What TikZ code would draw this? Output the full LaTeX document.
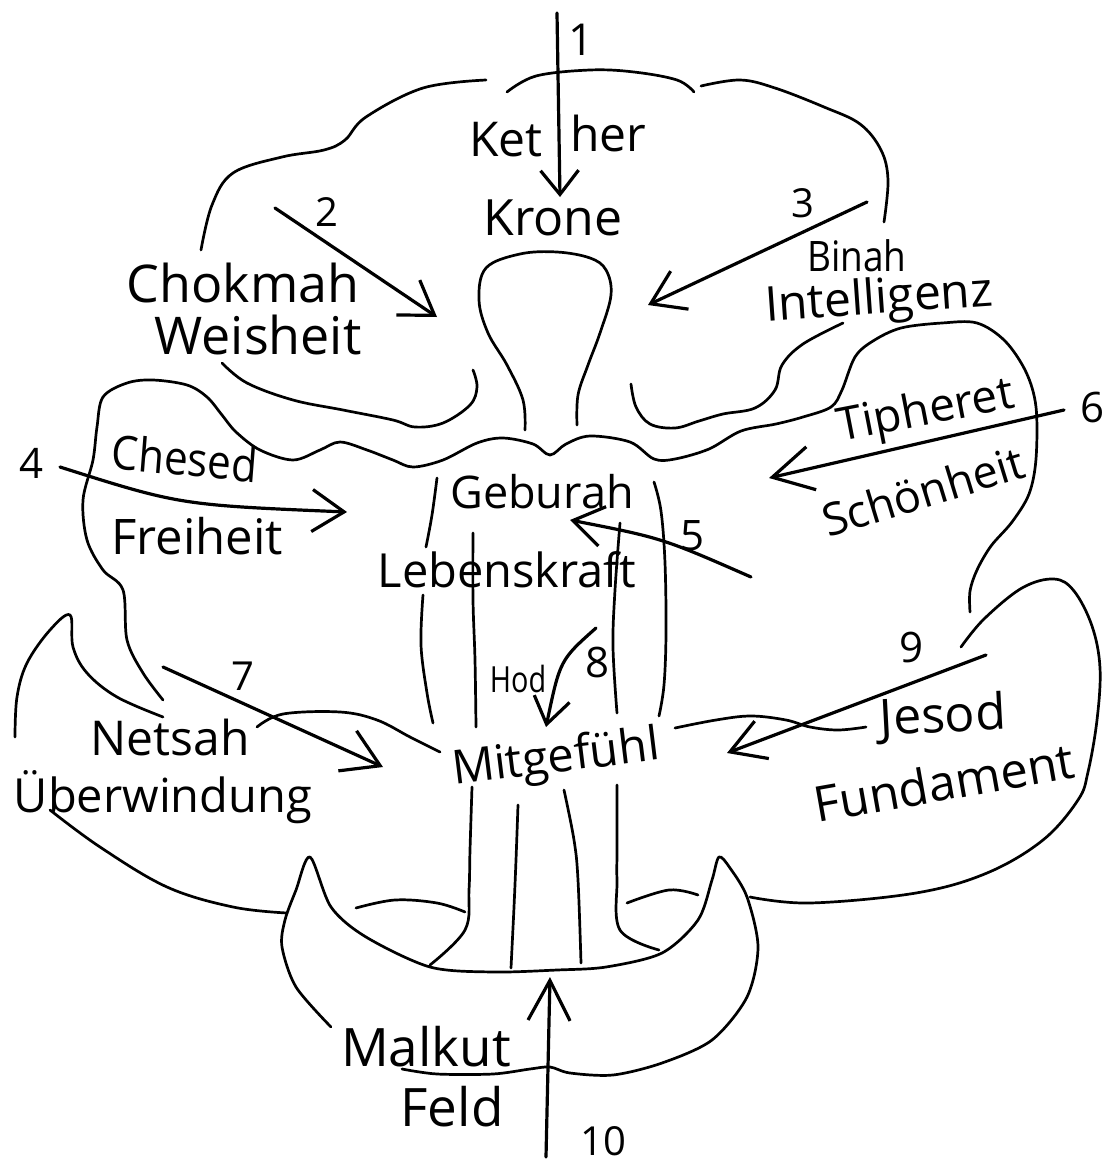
\documentclass[tikz,border=0pt]{standalone}
\usepackage{fontspec}
\setmainfont{Open Sans}
\usetikzlibrary{arrows.meta}
\newcommand{\fsz}[1]{\fontsize{#1}{#1}\selectfont}
\tikzset{
  outline/.style={line width=2.7pt, line cap=round, line join=round},
  arr/.style={line width=3.2pt, line cap=round, -{Straight Barb[length=32pt,width=42pt]}},
  lbl/.style={inner sep=0pt, anchor=center},
}
\begin{document}
\begin{tikzpicture}[x=1pt,y=-1pt]
\useasboundingbox (0,0) rectangle (1105,1165);
\fill[white] (0,0) rectangle (1105,1165);

% ---------- top cloud (Kether / Chokmah / Binah) ----------
\draw[outline] plot[smooth, tension=0.6] coordinates {(201,250) (212,205) (233,173) (282,157) (324,150) (345,140) (366,117) (423,88) (486,80)};
\draw[outline] plot[smooth, tension=0.6] coordinates {(507,92) (536,76) (590,70) (634,72) (677,80) (694,92)};
\draw[outline] plot[smooth, tension=0.6] coordinates {(701,86) (740,80) (775,88) (824,107) (860,124) (881,150) (888,180) (884,222)};
\draw[outline] plot[smooth, tension=0.6] coordinates {(222,363) (247,383) (293,400) (343,410) (393,420) (415,427) (443,423) (470,405) (477,387) (473,370)};
\draw[outline] plot[smooth, tension=0.6] coordinates {(631,384) (636,407) (650,424) (675,428) (699,421) (723,414) (755,408) (775,390) (782,365) (803,344) (843,323)};

% ---------- head ----------
\draw[outline] plot[smooth, tension=0.6] coordinates {(525,430) (523,400) (507,365) (488,333) (479,300) (486,268) (520,254) (557,252) (590,258) (606,270) (611,295) (600,333) (588,365) (578,395) (577,425)};

% ---------- Chesed cloud, shoulders, Tipheret cloud ----------
\draw[outline] plot[smooth, tension=0.55] coordinates {(163,700) (143,673) (127,640) (123,590) (103,570) (87,540) (83,500) (93,460) (97,427) (103,397) (127,383) (153,380) (187,385) (207,397) (222,415) (236,432) (260,450) (293,460) (320,450) (340,442) (367,450) (393,460) (413,467) (443,460) (477,443) (503,438) (533,444) (550,455) (566,444) (590,436) (630,442) (654,459) (675,459) (709,449) (741,431) (776,424) (803,417) (831,407) (842,390) (855,357) (873,341) (901,328) (942,323) (977,323) (1005,341) (1026,372) (1036,407) (1036,459) (1029,494) (1012,522) (991,546) (977,570) (970,591) (970,612)};

% ---------- Netsah / Ueberwindung cloud ----------
\draw[outline] plot[smooth, tension=0.6] coordinates {(15,737) (17,697) (27,663) (50,630) (70,615) (73,647) (87,673) (117,697) (163,717)};
\draw[outline] plot[smooth, tension=0.6] coordinates {(257,727) (283,714) (340,712) (377,720) (410,737) (440,752)};
\draw[outline] plot[smooth, tension=0.6] coordinates {(50,810) (100,847) (167,887) (233,907) (287,913)};

% ---------- Jesod cloud ----------
\draw[outline] plot[smooth, tension=0.6] coordinates {(961,647) (984,619) (1022,588) (1054,579) (1074,591) (1092,626) (1100,668) (1097,720) (1088,772) (1078,800) (1043,840) (987,873) (916,893) (810,903) (750,897)};
\draw[outline] plot[smooth, tension=0.6] coordinates {(675,728) (716,720) (751,716) (786,720) (810,727) (838,730) (866,727)};

% ---------- body ----------
\draw[outline] plot[smooth, tension=0.6] coordinates {(437,478) (432,515) (426,547)};
\draw[outline] plot[smooth, tension=0.6] coordinates {(423,595) (421,645) (427,693) (433,723)};
\draw[outline] plot[smooth, tension=0.6] coordinates {(473,533) (473,600) (475,660) (476,727)};
\draw[outline] plot[smooth, tension=0.6] coordinates {(620,523) (615,590) (613,647) (617,713)};
\draw[outline] plot[smooth, tension=0.6] coordinates {(654,482) (661,511) (665,563) (666,633) (664,685) (659,716)};
% legs
\draw[outline] plot[smooth, tension=0.6] coordinates {(472,787) (470,850) (469,890) (465,930) (430,965)};
\draw[outline] plot[smooth, tension=0.6] coordinates {(518,805) (516,860) (514,907) (511,968)};
\draw[outline] plot[smooth, tension=0.6] coordinates {(564,790) (574,840) (578,880) (581,963)};
\draw[outline] plot[smooth, tension=0.6] coordinates {(617,785) (617,850) (617,880) (620,930) (659,950)};
\draw[outline] plot[smooth, tension=0.6] coordinates {(356,908) (395,900) (437,903) (465,912)};
\draw[outline] plot[smooth, tension=0.6] coordinates {(627,903) (669,890) (698,895)};

% ---------- Malkut cup ----------
\draw[outline] plot[smooth, tension=0.5] coordinates {(331,1027) (296,987) (282,947) (285,920) (296,890) (310,857) (331,907) (366,937) (430,967) (493,972) (557,970) (606,967) (662,953) (698,920) (712,880) (719,857) (730,868) (747,897) (758,947) (747,997) (712,1040) (662,1063) (613,1075) (570,1073) (550,1067) (530,1069) (493,1074) (437,1074) (402,1069)};

% ---------- arrows ----------
\coordinate (a1s) at (557,13);   \coordinate (a1e) at (560,197);
\coordinate (a2s) at (275,208);  \coordinate (a2e) at (437,317);
\coordinate (a3s) at (867,202);  \coordinate (a3e) at (648,305);
\coordinate (a4s) at (60,467);   \coordinate (a4c) at (180,505); \coordinate (a4e) at (347,512);
\coordinate (a5s) at (751,577);  \coordinate (a5c) at (662,538); \coordinate (a5e) at (570,520);
\coordinate (a6s) at (1064,410); \coordinate (a6e) at (769,478);
\coordinate (a7s) at (163,667);  \coordinate (a7e) at (383,767);
\coordinate (a8s) at (596,628);  \coordinate (a8c) at (560,660); \coordinate (a8e) at (546,727);
\coordinate (a9s) at (986,655);  \coordinate (a9e) at (727,753);
\coordinate (a10s) at (546,1157); \coordinate (a10e) at (550,977);

\draw[arr, -{Straight Barb[length=24pt,width=38pt]}] (a1s) -- (a1e);
\draw[arr] (a2s) -- (a2e);
\draw[arr] (a3s) -- (a3e);
\draw[arr] (a4s) .. controls (a4c) .. (a4e);
\draw[arr, -{Straight Barb[length=30pt,width=40pt]}] (a5s) .. controls (a5c) .. (a5e);
\draw[arr, -{Straight Barb[length=40pt,width=44pt]}] (a6s) -- (a6e);
\draw[arr, -{Straight Barb[length=36pt,width=44pt]}] (a7s) -- (a7e);
\draw[arr, -{Straight Barb[length=26pt,width=36pt]}] (a8s) .. controls (a8c) .. (a8e);
\draw[arr, -{Straight Barb[length=34pt,width=40pt]}] (a9s) -- (a9e);
\draw[arr, -{Straight Barb[length=40pt,width=42pt]}] (a10s) -- (a10e);

% ---------- labels ----------
\node[lbl, font=\fsz{44}] (n1) at (581,40) {1};
\node[lbl, font=\fsz{48}] (ket) at (506,140) {Ket};
\node[lbl, font=\fsz{48}] (her) at (608,133) {her};
\node[lbl, font=\fsz{50}] (krone) at (553,218) {Krone};
\node[lbl, font=\fsz{40}] (n2) at (327,212) {2};
\node[lbl, font=\fsz{40}] (n3) at (803,203) {3};
\node[lbl, font=\fsz{52}] (chokmah) at (243,283) {Chokmah};
\node[lbl, font=\fsz{52}] (weisheit) at (258,335) {Weisheit};
\node[lbl, font=\fsz{42}, xscale=0.88] (binah) at (857,256) {Binah};
\node[lbl, font=\fsz{48}, rotate=4] (intell) at (879,301) {Intelligenz};
\node[lbl, font=\fsz{46}, rotate=11] (tipheret) at (926,413) {Tipheret};
\node[lbl, font=\fsz{45}, rotate=17] (schoen) at (923,491) {Schönheit};
\node[lbl, font=\fsz{42}] (n6) at (1092,407) {6};
\node[lbl, font=\fsz{42}] (n4) at (32,463) {4};
\node[lbl, font=\fsz{47}, xscale=0.9, rotate=-5] (chesed) at (185,458) {Chesed};
\node[lbl, font=\fsz{49}] (freiheit) at (197,536) {Freiheit};
\node[lbl, font=\fsz{45}] (geburah) at (542,492) {Geburah};
\node[lbl, font=\fsz{47}] (lebens) at (507,570) {Lebenskraft};
\node[lbl, font=\fsz{42}] (n5) at (693,536) {5};
\node[lbl, font=\fsz{42}] (n8) at (598,662) {8};
\node[lbl, font=\fsz{36}, xscale=0.8] (hod) at (518,679) {Hod};
\node[lbl, font=\fsz{40}] (n7) at (243,676) {7};
\node[lbl, font=\fsz{48}] (netsah) at (170,737) {Netsah};
\node[lbl, font=\fsz{47}] (ueber) at (163,797) {Überwindung};
\node[lbl, font=\fsz{47}, rotate=7] (mitge) at (556,760) {Mitgefühl};
\node[lbl, font=\fsz{42}] (n9) at (911,647) {9};
\node[lbl, font=\fsz{50}, rotate=3] (jesod) at (943,718) {Jesod};
\node[lbl, font=\fsz{49}, rotate=10] (fund) at (944,782) {Fundament};
\node[lbl, font=\fsz{53}] (malkut) at (426,1047) {Malkut};
\node[lbl, font=\fsz{53}] (feld) at (452,1107) {Feld};
\node[lbl, font=\fsz{40}] (n10) at (603,1141) {10};
\end{tikzpicture}
\end{document}
